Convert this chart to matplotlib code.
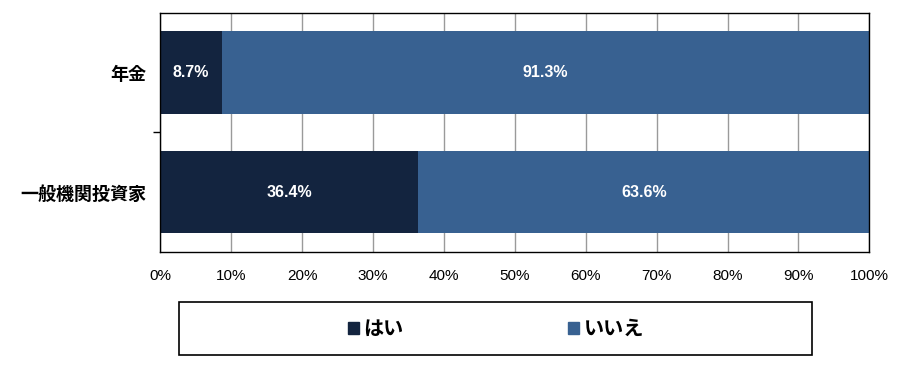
import numpy as np
import matplotlib.pyplot as plt
from matplotlib.patches import Patch, Rectangle

plt.rcParams['font.family'] = ['Noto Sans CJK JP', 'DejaVu Sans']

# データ
categories = ['年金', '一般機関投資家']
yes_vals = np.array([8.7, 36.4])
no_vals = np.array([91.3, 63.6])
series_names = ['はい', 'いいえ']
xticks = np.arange(0, 101, 10)

c_yes = '#13243f'
c_no = '#386191'
num_font = ['Liberation Sans Narrow', 'Liberation Sans', 'DejaVu Sans']

fig = plt.figure(figsize=(9, 3.65), dpi=100)
ax = fig.add_axes([0.178, 0.31, 0.788, 0.655])

y = np.arange(len(categories))
h = 0.69
ax.barh(y, yes_vals, height=h, color=c_yes, zorder=2)
ax.barh(y, no_vals, left=yes_vals, height=h, color=c_no, zorder=2)

for i in range(len(categories)):
    ax.text(yes_vals[i] / 2, y[i], f'{yes_vals[i]:.1f}%', color='white',
            ha='center', va='center', fontsize=11.5, fontweight='bold', family=num_font, zorder=3)
    ax.text(yes_vals[i] + no_vals[i] / 2, y[i], f'{no_vals[i]:.1f}%', color='white',
            ha='center', va='center', fontsize=11.5, fontweight='bold', family=num_font, zorder=3)

ax.set_xlim(0, 100)
ax.set_ylim(1.5, -0.5)
ax.set_xticks(xticks)
ax.set_xticklabels([f'{v}%' for v in xticks], family=num_font, fontsize=11)
ax.tick_params(axis='x', length=0, pad=12)
ax.set_yticks(y)
ax.set_yticklabels(categories, fontsize=13, fontweight='bold')
ax.tick_params(axis='y', which='major', length=0, pad=10)
ax.set_yticks([0.5], minor=True)
ax.tick_params(axis='y', which='minor', length=5, width=1, color='black')
ax.grid(axis='x', color='#9a9a9a', linewidth=1, zorder=0)
ax.set_axisbelow(True)
for s in ax.spines.values():
    s.set_color('black')
    s.set_linewidth(1)

# 凡例の枠
fig.patches.append(Rectangle((0.199, 0.027), 0.703, 0.145, transform=fig.transFigure,
                             fill=False, edgecolor='black', linewidth=1.2))
handles = [Patch(color=c_yes), Patch(color=c_no)]
fig.legend(handles, series_names, loc='center', ncol=2,
           bbox_to_anchor=(0.551, 0.1), frameon=False,
           prop={'size': 14.5, 'weight': 'bold'},
           handlelength=0.55, handleheight=0.55, handletextpad=0.2,
           columnspacing=8.2)

fig.savefig('out.png', dpi=100)
